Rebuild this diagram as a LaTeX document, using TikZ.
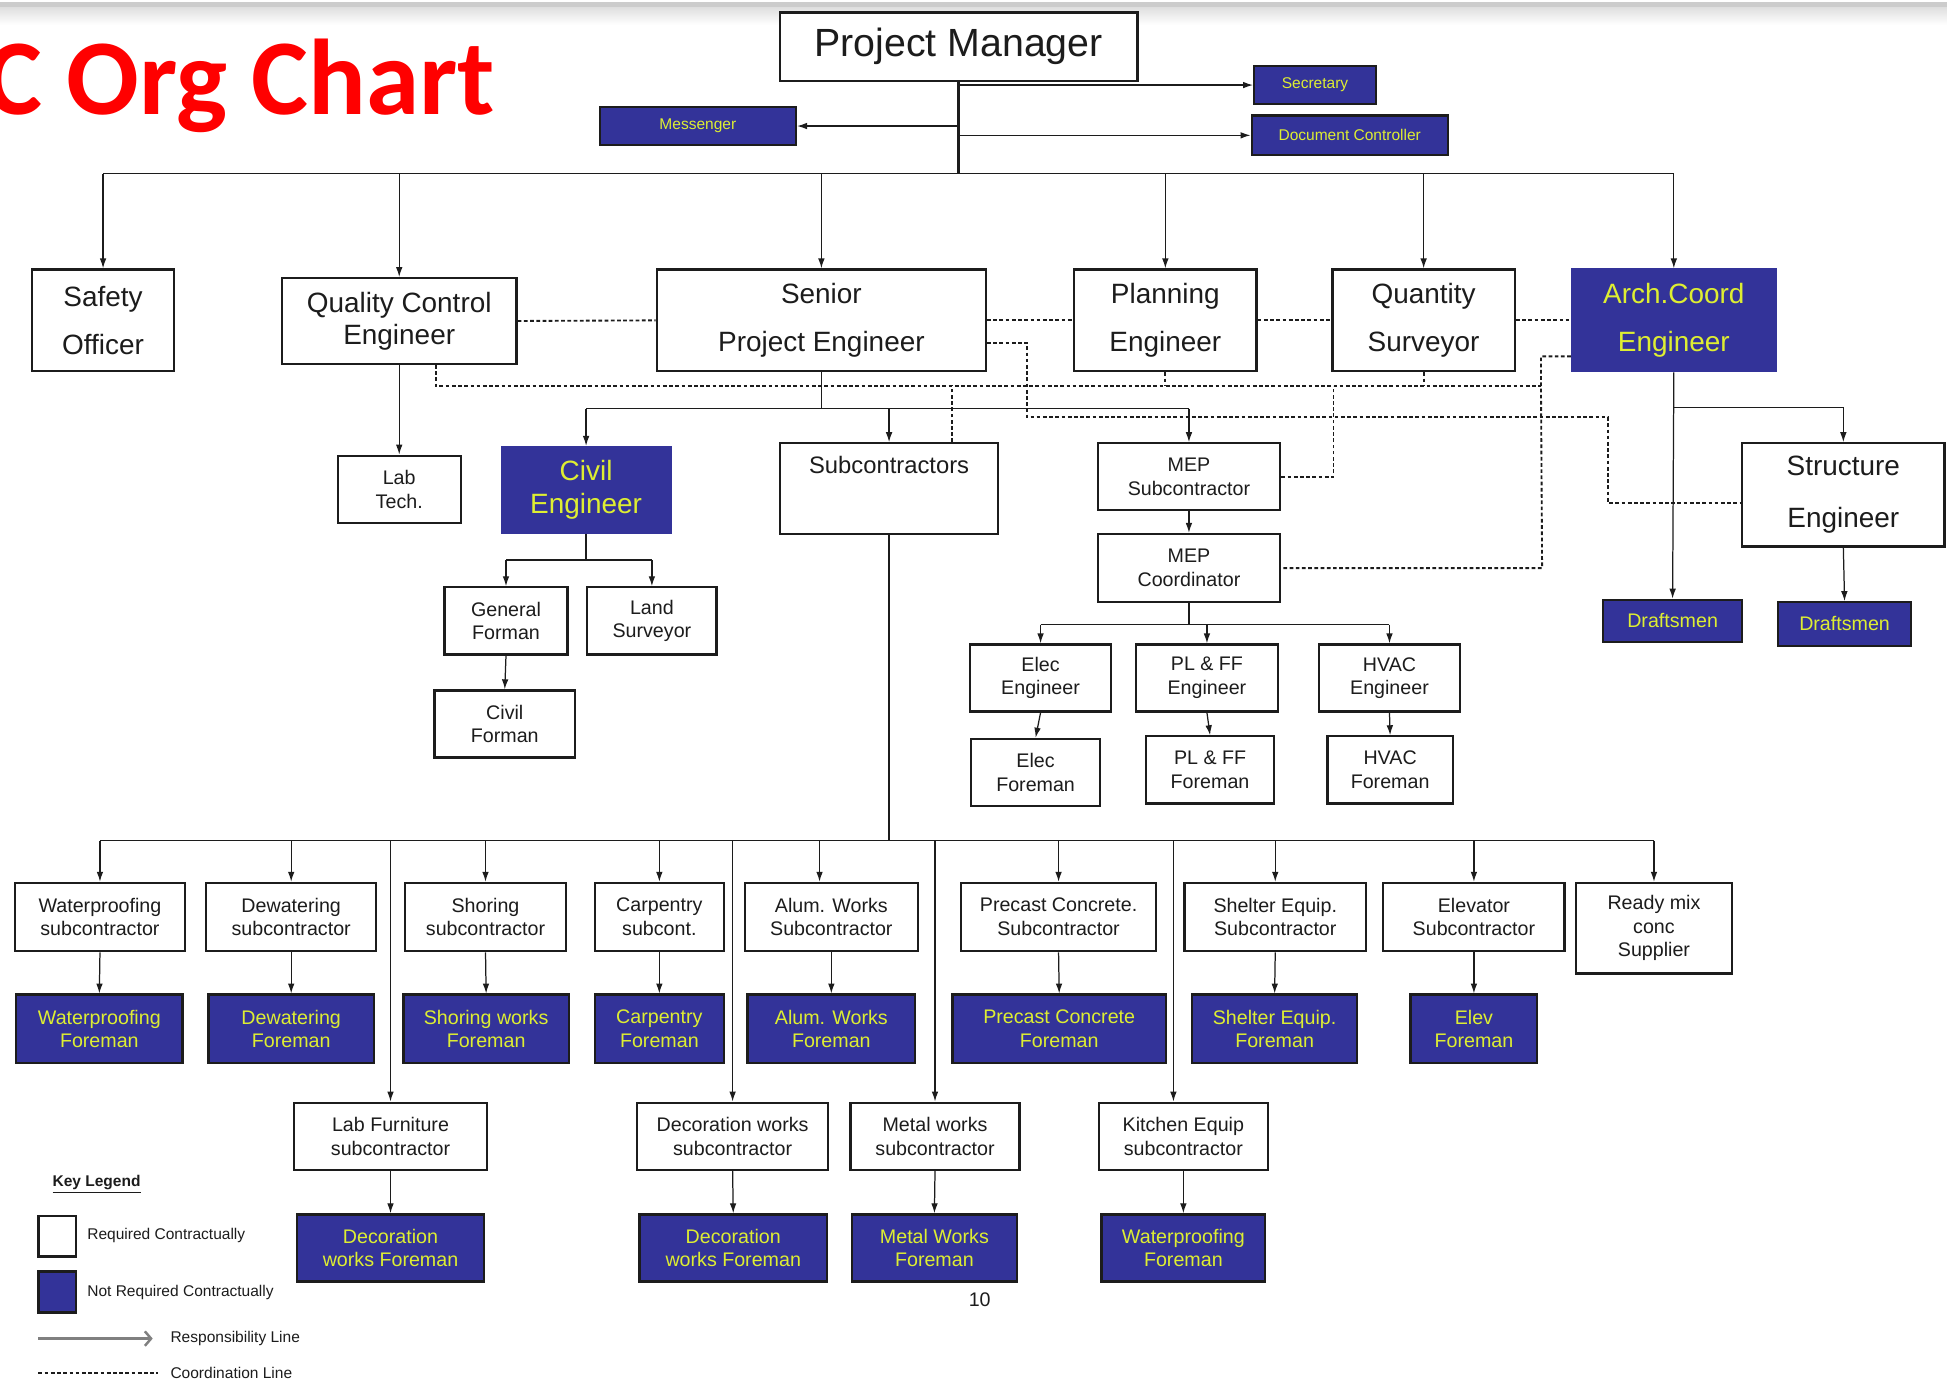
\documentclass[tikz,border=0pt]{standalone}
\usepackage{fontspec}
\setmainfont{Liberation Sans}
\newfontfamily\titlefont{Carlito}
\usetikzlibrary{arrows.meta,calc}
\definecolor{nrblue}{RGB}{51,51,153}
\definecolor{nryellow}{RGB}{222,238,50}
\definecolor{inkc}{RGB}{28,28,28}

% box from its corners: name, style, x1, y1, x2, y2, text
\newcommand\orgbox[7]{%
  \node[#2, minimum width={(#5-#3)*0.6pt}, minimum height={(#6-#4)*0.6pt}]
    (#1) at ({(#3+#5)/2},{(#4+#6)/2}) {#7};}

\tikzset{
  wbox/.style={draw=inkc, line width=1.1pt, fill=white, align=center, inner sep=1pt, text=inkc},
  bbox/.style={wbox, fill=nrblue, text=nryellow},
  bplain/.style={bbox, draw=nrblue},
  hugef/.style={font=\fontsize{19}{22}\selectfont},
  bigf/.style={font=\fontsize{13.5}{23.4}\selectfont},
  bigg/.style={font=\fontsize{13.5}{25}\selectfont},
  midf/.style={font=\fontsize{13.5}{15.6}\selectfont},
  subf/.style={font=\fontsize{11.5}{13.8}\selectfont},
  smf/.style={font=\fontsize{9.5}{11.4}\selectfont},
  tinyf/.style={font=\fontsize{7.5}{9}\selectfont},
  legf/.style={font=\fontsize{7.5}{9}\selectfont, text=inkc, inner sep=0, anchor=west},
  conn/.style={draw=inkc, line width=0.6pt},
  arr/.style={conn, -{Latex[length=4.8pt,width=3.2pt]}},
  coordl/.style={draw=inkc, line width=0.9pt, dash pattern=on 1.8pt off 1.2pt},
}

\begin{document}
\begin{tikzpicture}[x=0.6pt,y=-0.6pt]
\useasboundingbox (0,0) rectangle (1568,1114);

% thin shaded band along the top edge
\fill[gray!40] (0,2) rectangle (1568,6);
\shade[top color=gray!25, bottom color=white] (0,6) rectangle (1568,20);

% title
\node[anchor=base west, inner sep=0, text=red,
      font=\titlefont\bfseries\fontsize{52}{60}\selectfont] (title) at (-12,92) {C Org Chart};

% top management
\orgbox{pm}{wbox,hugef}{628}{10}{916}{65}{Project Manager}
\orgbox{sec}{bbox,tinyf}{1010}{53}{1108}{84}{Secretary}
\orgbox{msg}{bbox,tinyf}{483}{86}{641}{117}{Messenger}
\orgbox{doc}{bbox,tinyf}{1008}{93}{1166}{125}{Document Controller}

% second level
\orgbox{safety}{wbox,bigf}{26}{217}{140}{299}{Safety\\Officer}
\orgbox{qc}{wbox,midf}{227}{224}{416}{293}{Quality Control\\Engineer}
\orgbox{spe}{wbox,bigf}{529}{217}{794}{299}{Senior\\Project Engineer}
\orgbox{plan}{wbox,bigf}{865}{217}{1012}{299}{Planning\\Engineer}
\orgbox{qs}{wbox,bigf}{1073}{217}{1220}{299}{Quantity\\Surveyor}
\orgbox{arch}{bplain,bigf}{1266}{217}{1430}{299}{Arch.Coord\\Engineer}

% third level
\orgbox{lab}{wbox,smf}{272}{367}{371}{421}{Lab\\Tech.}
\orgbox{civil}{bplain,midf}{404}{360}{540}{429}{Civil\\Engineer}
\orgbox{subs}{wbox,subf}{628}{357}{804}{430}{Subcontractors\\[5pt]\strut}
\orgbox{mepsub}{wbox,smf}{884}{357}{1031}{411}{MEP\\Subcontractor}
\orgbox{mepc}{wbox,smf}{884}{430}{1031}{485}{MEP\\Coordinator}
\orgbox{struct}{wbox,bigg}{1403}{357}{1566}{440}{Structure\\Engineer}
\orgbox{draft1}{bbox,smf}{1291}{483}{1403}{517}{Draftsmen}
\orgbox{draft2}{bbox,smf}{1432}{485}{1539}{520}{Draftsmen}

% civil branch
\orgbox{gf}{wbox,smf}{358}{473}{457}{527}{General\\Forman}
\orgbox{ls}{wbox,smf}{473}{473}{577}{527}{Land\\Surveyor}
\orgbox{cf}{wbox,smf}{350}{556}{463}{610}{Civil\\Forman}

% MEP branch
\orgbox{elece}{wbox,smf}{781}{519}{895}{573}{Elec\\Engineer}
\orgbox{plffe}{wbox,smf}{915}{519}{1029}{573}{PL \& FF\\Engineer}
\orgbox{hvace}{wbox,smf}{1062}{519}{1176}{573}{HVAC\\Engineer}
\orgbox{elecf}{wbox,smf}{782}{595}{886}{649}{Elec\\Foreman}
\orgbox{plfff}{wbox,smf}{923}{593}{1026}{647}{PL \& FF\\Foreman}
\orgbox{hvacf}{wbox,smf}{1069}{593}{1170}{647}{HVAC\\Foreman}

% subcontractor row
\orgbox{wp}{wbox,smf}{12}{711}{149}{766}{Waterproofing\\subcontractor}
\orgbox{dew}{wbox,smf}{166}{711}{303}{766}{Dewatering\\subcontractor}
\orgbox{sh}{wbox,smf}{326}{711}{456}{766}{Shoring\\subcontractor}
\orgbox{carp}{wbox,smf}{479}{711}{583}{766}{Carpentry\\subcont.}
\orgbox{alum}{wbox,smf}{600}{711}{739}{766}{Alum. Works\\Subcontractor}
\orgbox{pc}{wbox,smf}{774}{711}{931}{766}{Precast Concrete.\\Subcontractor}
\orgbox{she}{wbox,smf}{954}{711}{1100}{766}{Shelter Equip.\\Subcontractor}
\orgbox{elv}{wbox,smf}{1114}{711}{1260}{766}{Elevator\\Subcontractor}
\orgbox{rm}{wbox,smf}{1269}{711}{1395}{784}{Ready mix\\conc\\Supplier}

% foremen row
\orgbox{wpf}{bbox,smf}{13}{801}{147}{856}{Waterproofing\\Foreman}
\orgbox{dewf}{bbox,smf}{168}{801}{301}{856}{Dewatering\\Foreman}
\orgbox{shf}{bbox,smf}{325}{801}{458}{856}{Shoring works\\Foreman}
\orgbox{carpf}{bbox,smf}{479}{801}{583}{856}{Carpentry\\Foreman}
\orgbox{alumf}{bbox,smf}{602}{801}{737}{856}{Alum. Works\\Foreman}
\orgbox{pcf}{bbox,smf}{767}{801}{939}{856}{Precast Concrete\\Foreman}
\orgbox{shef}{bbox,smf}{960}{801}{1093}{856}{Shelter Equip.\\Foreman}
\orgbox{elvf}{bbox,smf}{1136}{801}{1238}{856}{Elev\\Foreman}

% lower subcontractors and their foremen
\orgbox{lf}{wbox,smf}{237}{888}{392}{942}{Lab Furniture\\subcontractor}
\orgbox{dw}{wbox,smf}{513}{888}{667}{942}{Decoration works\\subcontractor}
\orgbox{mw}{wbox,smf}{685}{888}{821}{942}{Metal works\\subcontractor}
\orgbox{ke}{wbox,smf}{885}{888}{1021}{942}{Kitchen Equip\\subcontractor}
\orgbox{lff}{bbox,smf}{239}{978}{390}{1032}{Decoration\\works Foreman}
\orgbox{dwf}{bbox,smf}{515}{978}{666}{1032}{Decoration\\works Foreman}
\orgbox{mwf}{bbox,smf}{686}{978}{819}{1032}{Metal Works\\Foreman}
\orgbox{kef}{bbox,smf}{887}{978}{1019}{1032}{Waterproofing\\Foreman}

% page number
\node[smf, text=inkc] (pgnum) at (789,1047) {10};

% ---- responsibility lines ----
\coordinate (pmbus) at (772,140);
\draw[conn, line width=1.4pt] (pm.south) -- (pmbus);
\draw[conn] (safety.north |- pmbus) -- (arch.north |- pmbus);
\foreach \n in {safety,qc,spe,plan,qs,arch}
  \draw[arr] (\n.north |- pmbus) -- (\n.north);
\draw[arr] (pm.south |- sec.west) -- (sec.west);
\draw[arr] (pm.south |- msg.east) -- (msg.east);
\draw[arr] (pm.south |- doc.west) -- (doc.west);

\draw[arr] (qc.south) -- (lab.north);

\coordinate (spebus) at (661.5,329);
\draw[conn] (spe.south) -- (spebus);
\draw[conn] (civil.north |- spebus) -- (mepsub.north |- spebus);
\foreach \n in {civil,subs,mepsub}
  \draw[arr] (\n.north |- spebus) -- (\n.north);

\coordinate (cibus) at (472,451);
\draw[conn] (civil.south) -- (cibus);
\draw[conn] (gf.north |- cibus) -- (ls.north |- cibus);
\foreach \n in {gf,ls}
  \draw[arr] (\n.north |- cibus) -- (\n.north);
\draw[arr] (gf.south) -- (cf.north);

\draw[arr] (mepsub.south) -- (mepc.north);
\coordinate (mepbus) at (957.5,503);
\draw[conn] (mepc.south) -- (mepbus);
\draw[conn] (elece.north |- mepbus) -- (hvace.north |- mepbus);
\foreach \n in {elece,plffe,hvace}
  \draw[arr] (\n.north |- mepbus) -- (\n.north);
\draw[arr] (elece.south) -- (elecf.north);
\draw[arr] (plffe.south) -- (plfff.north);
\draw[arr] (hvace.south) -- (hvacf.north);

\coordinate (archbus) at (1348,328);
\draw[arr] (arch.south) -- (draft1.north);
\draw[arr] (archbus) -| (struct.north);
\draw[arr] (struct.south) -- (draft2.north);

\coordinate (subbus) at (716,677);
\draw[conn] (subs.south) -- (subbus);
\draw[conn] (wp.north |- subbus) -- (rm.north |- subbus);
\foreach \n in {wp,dew,sh,carp,pc,she,elv,rm,lf,dw,mw}
  \draw[arr] (\n.north |- subbus) -- (\n.north);
\coordinate (alumdrop) at (660,677);
\draw[arr] (alumdrop) -- (alumdrop |- alum.north);
\coordinate (kedrop) at (945,677);
\draw[arr] (kedrop) -- (kedrop |- ke.north);
\foreach \a/\b in {wp/wpf,dew/dewf,sh/shf,carp/carpf,alum/alumf,pc/pcf,she/shef,elv/elvf,lf/lff,dw/dwf,mw/mwf,ke/kef}
  \draw[arr] (\a.south) -- (\b.north);

% ---- coordination lines ----
\coordinate (cl) at (1241,311);
\draw[coordl] (qc.east) -- (spe.west);
\draw[coordl] (spe.east) -- (plan.west);
\draw[coordl] (plan.east) -- (qs.west);
\draw[coordl] (qs.east) -- (arch.west);
\draw[coordl] ($(qc.south)+(29.5,0)$) |- (cl);
\draw[coordl] (plan.south) -- (plan.south |- cl);
\draw[coordl] (qs.south) -- (qs.south |- cl);
\draw[coordl] ($(subs.north)+(51,0)$) -- ++(0,-46);
\draw[coordl] (mepsub.east) -| ($(mepsub.east)+(42,-73)$);
\draw[coordl] ($(arch.west)+(0,29)$) -| (cl) -- ($(mepc.east)+(210,0)$) -- (mepc.east);
\draw[coordl] ($(spe.east)+(0,18)$) -| (827,336) -| (1295,405) -- ($(struct.west)+(0,6.5)$);

% ---- key legend ----
\node[legf, font=\fontsize{7.5}{9}\selectfont\bfseries] (keyleg) at (42,954) {\underline{Key Legend}};
\orgbox{lgreq}{wbox}{31}{979}{61}{1012}{}
\orgbox{lgnot}{bbox}{31}{1024}{61}{1057}{}
\node[legf] (lgreqt) at (70,995) {Required Contractually};
\node[legf] (lgnott) at (70,1041) {Not Required Contractually};
\coordinate (lra) at (31,1078);
\coordinate (lrb) at (123,1078);
\draw[draw=gray, line width=1.2pt, -{Straight Barb[length=3pt,width=7pt]}] (lra) -- (lrb);
\node[legf] (lgresp) at (137,1078) {Responsibility Line};
\coordinate (lca) at (31,1106);
\coordinate (lcb) at (127,1106);
\draw[coordl] (lca) -- (lcb);
\node[legf] (lgcoord) at (137,1106) {Coordination Line};
\end{tikzpicture}
\end{document}
